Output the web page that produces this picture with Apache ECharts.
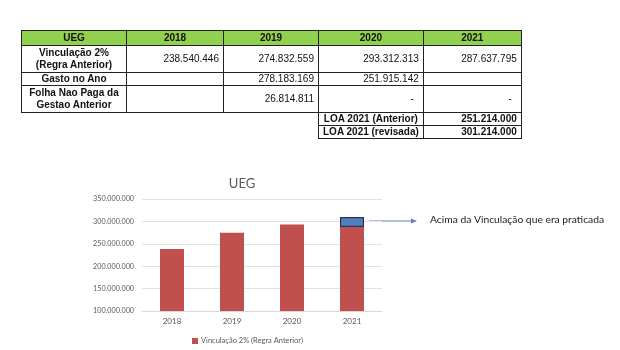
<!DOCTYPE html>
<html>
<head>
<meta charset="utf-8">
<script src="https://cdn.jsdelivr.net/npm/echarts@6/dist/echarts.min.js"></script>
<style>
  html, body { margin: 0; padding: 0; background: #fff; }
  #wrap { position: relative; width: 620px; height: 350px; overflow: hidden; }
  #chart { position: absolute; left: 0; top: 0; width: 620px; height: 350px; }
  #tbl { position: absolute; left: 21px; top: 30px; border-collapse: collapse; table-layout: fixed;
         font-family: "Liberation Sans", Arial, sans-serif; font-size: 10px; color: #111; }
  #tbl td { border: 1.5px solid #222; padding: 0 4px; line-height: 12px; white-space: nowrap; }
  #tbl td.h { background: #92d050; font-weight: bold; text-align: center; }
  #tbl td.l { font-weight: bold; text-align: center; }
  #tbl td.n { text-align: right; }
  #tbl td.d { text-align: right; padding-right: 9px; }
  #tbl td.b { font-weight: bold; }
  #tbl td.e { border: none; }
</style>
</head>
<body>
<div id="wrap">
  <div id="chart"></div>
  <table id="tbl"></table>
</div>
<script>
// ---- data ----
const tableHeader = ['UEG', '2018', '2019', '2020', '2021'];
const rowLabels = ['Vinculação 2%<br>(Regra Anterior)', 'Gasto no Ano', 'Folha Nao Paga da<br>Gestao Anterior'];
const vinculacao = [238540446, 274832559, 293312313, 287637795];
const gastoNoAno = [null, 278183169, 251915142, null];
const folhaNaoPaga = [null, 26814811, 0, 0];
const loaLabels = ['LOA 2021 (Anterior)', 'LOA 2021 (revisada)'];
const loaValues = [251214000, 301214000];

const categories = ['2018', '2019', '2020', '2021'];
const acimaVinculacao = [null, null, null, 22000000];
const yTicks = [100000000, 150000000, 200000000, 250000000, 300000000, 350000000];
const seriesName = 'Vinculação 2% (Regra Anterior)';
const chartTitle = 'UEG';
const noteText = 'Acima da Vinculação que era praticada';

function fmt(v) {
  return String(Math.round(v)).replace(/\B(?=(\d{3})+(?!\d))/g, '.');
}

// ---- table ----
const colW = [105, 97, 95, 104, 98];
const rowH = [15, 27, 13, 27, 12, 12];
let html = '<colgroup>' + colW.map(w => '<col style="width:' + w + 'px">').join('') + '</colgroup>';
html += '<tr style="height:' + rowH[0] + 'px">' + tableHeader.map(h => '<td class="h">' + h + '</td>').join('') + '</tr>';
const rows = [vinculacao, gastoNoAno, folhaNaoPaga];
rows.forEach((r, i) => {
  html += '<tr style="height:' + rowH[i + 1] + 'px"><td class="l">' + rowLabels[i] + '</td>';
  r.forEach(v => {
    if (v === null) html += '<td class="n"></td>';
    else if (v === 0) html += '<td class="d">-</td>';
    else html += '<td class="n">' + fmt(v) + '</td>';
  });
  html += '</tr>';
});
loaLabels.forEach((lab, i) => {
  html += '<tr style="height:' + rowH[4 + i] + 'px"><td class="e"></td><td class="e"></td><td class="e"></td>' +
    '<td class="l">' + lab + '</td><td class="n b">' + fmt(loaValues[i]) + '</td></tr>';
});
document.getElementById('tbl').innerHTML = html;

// ---- chart ----
const chart = echarts.init(document.getElementById('chart'), null, { renderer: 'canvas' });
const font = 'Lato, "Open Sans", sans-serif';
chart.setOption({
  animation: false,
  title: {
    text: chartTitle, left: 237, top: 172, textAlign: 'center',
    textStyle: { fontFamily: font, fontSize: 13, fontWeight: 'normal', color: '#595959' }
  },
  legend: {
    data: [seriesName], left: 187, top: 332, itemWidth: 6, itemHeight: 6, itemGap: 4,
    icon: 'rect',
    textStyle: { fontFamily: font, fontSize: 7.5, color: '#595959', padding: [0, 0, 0, -2] }
  },
  grid: { left: 142, right: 238, top: 199, bottom: 39, containLabel: false },
  xAxis: {
    type: 'category', data: categories,
    axisLine: { lineStyle: { color: '#d9d9d9' } },
    axisTick: { show: false },
    axisLabel: { fontFamily: font, fontSize: 8, color: '#595959', margin: 6 }
  },
  yAxis: {
    type: 'value', min: yTicks[0], max: yTicks[yTicks.length - 1], interval: 50000000,
    axisLine: { show: false }, axisTick: { show: false },
    splitLine: { lineStyle: { color: '#e3e3e3' } },
    axisLabel: { fontFamily: font, fontSize: 7.2, color: '#595959', margin: 8, formatter: v => fmt(v) }
  },
  series: [
    {
      name: seriesName, type: 'bar', stack: 'a', data: vinculacao, barWidth: '40%',
      itemStyle: { color: '#c0504d' }
    },
    {
      name: 'acima', type: 'bar', stack: 'a', data: acimaVinculacao, barWidth: '40%',
      itemStyle: { color: '#4f81bd', borderColor: '#23375a', borderWidth: 1.2 }
    }
  ],
  graphic: [
    { type: 'line', shape: { x1: 369, y1: 221, x2: 412, y2: 221 }, style: { stroke: '#5b7fb8', lineWidth: 1 } },
    { type: 'polygon', shape: { points: [[417, 221], [411, 218.5], [411, 223.5]] }, style: { fill: '#5b7fb8' } },
    { type: 'text', left: 430, top: 215, style: { text: noteText, font: '10.3px ' + font, fill: '#222' } }
  ]
});
</script>
</body>
</html>
